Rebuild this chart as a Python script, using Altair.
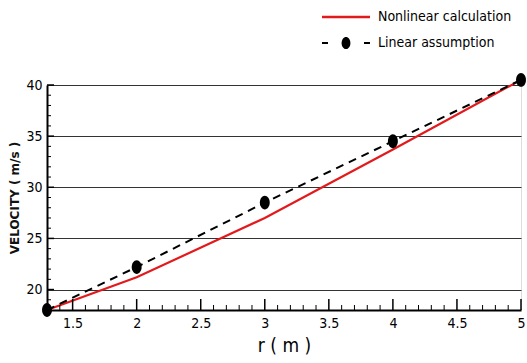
import altair as alt
import pandas as pd
import numpy as np

# data
r_nl = [1.3, 2.0, 3.0, 4.0, 5.0]
v_nl = [18.0, 21.2, 27.0, 33.7, 40.5]
r_lin = [1.3, 2.0, 3.0, 4.0, 5.0]
v_lin = [18.0, 22.2, 28.5, 34.5, 40.5]
x_major = [1.5, 2, 2.5, 3, 3.5, 4, 4.5, 5]
y_major = [20, 25, 30, 35, 40]

W, H = 474, 225
FONT = "'DejaVu Sans Condensed', 'Liberation Sans Narrow', 'Liberation Sans', sans-serif"

x_minor = [round(v, 1) for v in np.arange(1.3, 5.01, 0.1) if round(v, 1) not in x_major]
y_minor = [v for v in range(18, 41) if v not in y_major]

xs = alt.Scale(domain=[1.3, 5], nice=False, zero=False)
ys = alt.Scale(domain=[18, 40], nice=False, zero=False)

nl = pd.DataFrame({"r": r_nl, "v": v_nl})
lin = pd.DataFrame({"r": r_lin, "v": v_lin})

base_x = alt.X("r:Q", scale=xs, axis=alt.Axis(
    values=x_major, format="~g", title="r ( m )", grid=False, ticks=False, domainColor="black",
    domainWidth=2, labelFont=FONT, labelFontSize=14, labelColor="black", labelPadding=6,
    titleFont=FONT, titleFontSize=19, titleFontWeight="normal", titleColor="black", titlePadding=6,
    labelFlush=False))
base_y = alt.Y("v:Q", scale=ys, axis=alt.Axis(
    values=y_major, title="VELOCITY ( m/s )", grid=True, gridColor="#333", gridWidth=1.2,
    ticks=False, domainColor="black", domainWidth=2, labelFont=FONT, labelFontSize=14,
    labelColor="black", labelPadding=5, titleFont="DejaVu Sans", titleFontSize=12,
    titleFontWeight="bold", titleColor="#111", titlePadding=4))

red = alt.Chart(nl).mark_line(color="#e31a1c", strokeWidth=2.2, clip=False).encode(x=base_x, y=base_y)
dash = alt.Chart(lin).mark_line(color="black", strokeWidth=2, strokeDash=[8, 6], clip=False).encode(
    x=alt.X("r:Q", scale=xs), y=alt.Y("v:Q", scale=ys))
ell = "M0,-1A0.72,1,0,1,1,0,1A0.72,1,0,1,1,0,-1Z"
pts = alt.Chart(lin).mark_point(shape=ell, filled=True, color="black", opacity=1, size=190, clip=False).encode(
    x=alt.X("r:Q", scale=xs), y=alt.Y("v:Q", scale=ys))

xmaj = alt.Chart(pd.DataFrame({"r": x_major})).mark_rule(color="black", strokeWidth=1.5).encode(
    x=alt.X("r:Q", scale=xs), y=alt.value(H), y2=alt.value(H - 11))
xmin = alt.Chart(pd.DataFrame({"r": x_minor})).mark_rule(color="black", strokeWidth=1).encode(
    x=alt.X("r:Q", scale=xs), y=alt.value(H), y2=alt.value(H - 5))
ymaj = alt.Chart(pd.DataFrame({"v": y_major})).mark_rule(color="black", strokeWidth=1.5).encode(
    y=alt.Y("v:Q", scale=ys), x=alt.value(0), x2=alt.value(7))
ymin = alt.Chart(pd.DataFrame({"v": y_minor})).mark_rule(color="black", strokeWidth=1).encode(
    y=alt.Y("v:Q", scale=ys), x=alt.value(0), x2=alt.value(4))

# legend
LX, L1, L2 = 275, -68, -42
leg_red = alt.Chart(pd.DataFrame({"a": [0]})).mark_rule(color="#e31a1c", strokeWidth=2.5).encode(
    x=alt.value(LX), x2=alt.value(LX + 48), y=alt.value(L1))
leg_d1 = alt.Chart(pd.DataFrame({"a": [0]})).mark_rule(color="black", strokeWidth=2).encode(
    x=alt.value(LX), x2=alt.value(LX + 6), y=alt.value(L2))
leg_d2 = alt.Chart(pd.DataFrame({"a": [0]})).mark_rule(color="black", strokeWidth=2).encode(
    x=alt.value(LX + 42), x2=alt.value(LX + 48), y=alt.value(L2))
leg_pt = alt.Chart(pd.DataFrame({"a": [0]})).mark_point(shape=ell, filled=True, color="black", opacity=1, size=150).encode(
    x=alt.value(LX + 24), y=alt.value(L2))
leg_t = alt.Chart(pd.DataFrame({"t": ["Nonlinear calculation", "Linear assumption"], "y": [L1, L2]})).mark_text(
    align="left", baseline="middle", font=FONT, fontSize=14, color="black").encode(
    x=alt.value(LX + 56), y=alt.Y("y:Q", scale=None), text="t:N")

chart = alt.layer(red, dash, pts, xmaj, xmin, ymaj, ymin, leg_red, leg_d1, leg_d2, leg_pt, leg_t).properties(
    width=W, height=H, padding={"left": 47, "top": 85, "right": 6, "bottom": 53},
    autosize=alt.AutoSizeParams(type="none")
).configure_view(stroke=None).configure(background="white")

chart.save("out.html", embed_options={"renderer": "svg", "actions": False})
